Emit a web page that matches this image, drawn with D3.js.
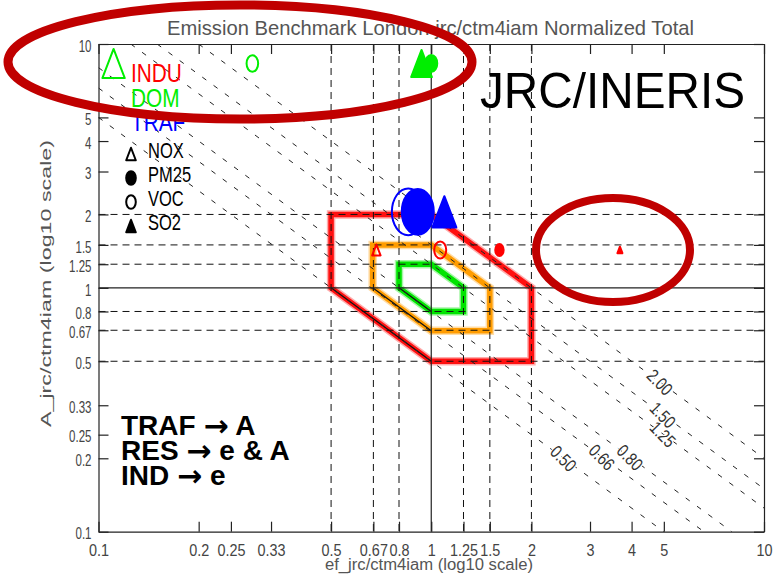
<!DOCTYPE html>
<html><head><meta charset="utf-8">
<script src="https://cdn.jsdelivr.net/npm/d3@7"></script>
<style>body{margin:0;background:#fff}svg{display:block}</style>
</head><body>
<svg id="chart" width="773" height="584"></svg>
<script>
// ---------------- data ----------------
const xTicks=[0.1,0.2,0.25,0.33,0.5,0.67,0.8,1,1.25,1.5,2,3,4,5,10];
const xTickLabels=["0.1","0.2","0.25","0.33","0.5","0.67","0.8","1","1.25","1.5","2","3","4","5","10"];
const yTicks=[0.1,0.2,0.25,0.33,0.5,0.67,0.8,1,1.25,1.5,2,3,4,5,10];
const yTickLabels=["0.1","0.2","0.25","0.33","0.5","0.67","0.8","1","1.25","1.5","2","3","4","5","10"];
const gridValues=[0.5,0.67,0.8,1.25,1.5,2];
const refValue=1;
const contourLevels=[0.5,0.66,0.8,1.25,1.5,2.0];
const contourLabels=["0.50","0.66","0.80","1.25","1.50","2.00"];
const contourLabelX=[2.5,3.26,3.96,4.97,4.97,4.87];
const bandFactors=[2,1.5,1.25];
const bandColors=["#ff1010","#ff9c00","#00e400"];
const sectors=["INDU","DOM","TRAF"];
const sectorColors=["#ff0000","#00ee00","#0000ff"];
const pollutants=["NOX","PM25","VOC","SO2"];
const pollutantSymbols=["triangle-open","circle-filled","circle-open","triangle-filled"];
// e ratio (x), A ratio (y), marker weight  — order NOX, PM25, VOC, SO2
const induE=[0.684,1.603,1.064,3.69];
const induA=[1.43,1.43,1.43,1.43];
const induW=[0.21,0.21,0.30,0.125];
const domE=[0.111,1.0,0.29,0.935];
const domA=[8.32,8.32,8.32,8.32];
const domW=[0.56,0.30,0.29,0.52];
const trafE=[null,0.911,0.853,1.095];
const trafA=[null,2.05,2.05,2.05];
const trafW=[null,0.80,0.82,0.60];
const titleText="Emission Benchmark London jrc/ctm4iam Normalized Total";
const xTitle="ef_jrc/ctm4iam (log10 scale)";
const yTitle="A_jrc/ctm4iam (log10 scale)";
const stampText="JRC/INERIS";
const noteLines=[["TRAF ","A"],["RES ","e & A"],["IND ","e"]];

// ---------------- setup ----------------
const svg=d3.select("#chart");
const x=d3.scaleLog().domain([0.1,10]).range([98.5,764]);
const y=d3.scaleLog().domain([0.1,10]).range([531.7,44]);
const rScale=d3.scaleLinear().domain([0,1]).range([0,20]);
const circAsp=1.43, triAsp=1.3;
const fontAx="Liberation Sans, Arial, sans-serif";

svg.append("rect").attr("width",773).attr("height",584).attr("fill","#fff");
svg.append("defs").append("clipPath").attr("id","plot")
  .append("rect").attr("x",x(0.1)).attr("y",y(10)).attr("width",x(10)-x(0.1)).attr("height",y(0.1)-y(10));
const plot=svg.append("g").attr("clip-path","url(#plot)");

// ---------------- bands (hexagons) ----------------
const hex=f=>[[1/f,f],[1,f],[f,1],[f,1/f],[1,1/f],[1/f,1]];
const lineGen=d3.line().x(d=>x(d[0])).y(d=>y(d[1]));
bandFactors.forEach((f,i)=>{
  const pts=hex(f);
  plot.append("path").attr("d",lineGen(pts)+"Z").attr("fill","none")
    .attr("stroke",bandColors[i]).attr("stroke-opacity",0.35).attr("stroke-width",8.5).attr("stroke-linejoin","miter");
  plot.append("path").attr("d",lineGen(pts)+"Z").attr("fill","none")
    .attr("stroke",bandColors[i]).attr("stroke-width",5.5).attr("stroke-linejoin","miter");
  plot.append("path").attr("d",lineGen([pts[5],pts[4]])).attr("fill","none")
    .attr("stroke","#111").attr("stroke-width",1.2);
});

// ---------------- grid ----------------
const gGrid=plot.append("g");
gGrid.selectAll(".vg").data(gridValues).join("line")
  .attr("x1",d=>x(d)).attr("x2",d=>x(d)).attr("y1",y(10)).attr("y2",y(0.1))
  .attr("stroke","#111").attr("stroke-width",1).attr("stroke-dasharray","7,5");
gGrid.selectAll(".hg").data(gridValues).join("line")
  .attr("y1",d=>y(d)).attr("y2",d=>y(d)).attr("x1",x(0.1)).attr("x2",x(10))
  .attr("stroke","#111").attr("stroke-width",1).attr("stroke-dasharray","7,5");
gGrid.append("line").attr("x1",x(refValue)).attr("x2",x(refValue)).attr("y1",y(10)).attr("y2",y(0.1))
  .attr("stroke","#222").attr("stroke-width",1.2);
gGrid.append("line").attr("y1",y(refValue)).attr("y2",y(refValue)).attr("x1",x(0.1)).attr("x2",x(10))
  .attr("stroke","#222").attr("stroke-width",1.2);

// ---------------- contours e*A = c ----------------
contourLevels.forEach((c,i)=>{
  const x0=Math.max(0.1,c/10), x1=Math.min(10,c/0.1);
  plot.append("path").attr("d",lineGen([[x0,c/x0],[x1,c/x1]]))
    .attr("fill","none").attr("stroke","#222").attr("stroke-width",1).attr("stroke-dasharray","5,9");
});
const angle=Math.atan2(y(0.1)-y(1),x(10)-x(1))*180/Math.PI+9;
contourLevels.forEach((c,i)=>{
  const lx=contourLabelX[i];
  plot.append("text").text(contourLabels[i])
    .attr("transform",`translate(${x(lx)},${y(c/lx)}) rotate(${angle}) scale(0.8,1)`)
    .attr("text-anchor","middle").attr("dominant-baseline","central")
    .attr("font-family",fontAx).attr("font-size",18)
    .attr("fill","#333").attr("stroke","#fff").attr("stroke-width",3).attr("paint-order","stroke");
});

// ---------------- axes ----------------
const axB=svg.append("g").attr("transform",`translate(0,${y(0.1)})`)
  .call(d3.axisBottom(x).tickValues(xTicks).tickFormat((d,i)=>xTickLabels[i]).tickSizeInner(-10).tickSizeOuter(0).tickPadding(13));
const axT=svg.append("g").attr("transform",`translate(0,${y(10)})`)
  .call(d3.axisTop(x).tickValues(xTicks).tickFormat("").tickSizeInner(-10).tickSizeOuter(0));
const axL=svg.append("g").attr("transform",`translate(${x(0.1)},0)`)
  .call(d3.axisLeft(y).tickValues(yTicks).tickFormat((d,i)=>yTickLabels[i]).tickSizeInner(-10).tickSizeOuter(0).tickPadding(6));
const axR=svg.append("g").attr("transform",`translate(${x(10)},0)`)
  .call(d3.axisRight(y).tickValues(yTicks).tickFormat("").tickSizeInner(-10).tickSizeOuter(0));
[axB,axT,axL,axR].forEach(a=>{
  a.select(".domain").attr("stroke","#222").attr("stroke-width",1.2);
  a.selectAll(".tick line").attr("stroke","#222").attr("stroke-width",1.2);
  a.selectAll("text").attr("font-family",fontAx).attr("fill","#444");
});
axB.selectAll("text").attr("font-size",16).attr("transform","scale(0.9,1)");
axL.selectAll("text").attr("font-size",16).attr("dy","0.45em")
  .attr("transform","scale(0.72,1)").attr("x",-7/0.72);

svg.append("text").text(titleText).attr("x",167).attr("y",35)
  .attr("font-family",fontAx).attr("font-size",21).attr("fill","#555")
  .attr("textLength",527).attr("lengthAdjust","spacingAndGlyphs");
svg.append("text").text(xTitle).attr("x",325).attr("y",570)
  .attr("font-family",fontAx).attr("font-size",16).attr("fill","#555")
  .attr("textLength",208).attr("lengthAdjust","spacingAndGlyphs");
svg.append("text").text(yTitle).attr("transform","translate(51,427) rotate(-90)")
  .attr("font-family",fontAx).attr("font-size",15).attr("fill","#555")
  .attr("textLength",287).attr("lengthAdjust","spacingAndGlyphs");

// ---------------- markers ----------------
function drawMarker(g,sym,cx,cy,r,color){
  if(sym.startsWith("circle")){
    g.append("ellipse").attr("cx",cx).attr("cy",cy).attr("rx",r).attr("ry",r*circAsp)
      .attr("fill",sym.endsWith("filled")?color:"none").attr("stroke",color).attr("stroke-width",2);
  } else {
    const hh=r*triAsp;
    g.append("path").attr("d",`M${cx},${cy-hh}L${cx+r},${cy+hh}L${cx-r},${cy+hh}Z`)
      .attr("fill",sym.endsWith("filled")?color:"none").attr("stroke",color).attr("stroke-width",2)
      .attr("stroke-linejoin","round");
  }
}
const sectorData=[[induE,induA,induW],[domE,domA,domW],[trafE,trafA,trafW]];
const gM=plot.append("g");
sectorData.forEach(([E,A,Wt],s)=>{
  [2,0,1,3].forEach(p=>{
    if(E[p]==null) return;
    drawMarker(gM,pollutantSymbols[p],x(E[p]),y(A[p]),rScale(Wt[p]),sectorColors[s]);
  });
});

// ---------------- legend ----------------
const gL=svg.append("g");
sectors.forEach((s,i)=>{
  gL.append("text").text(s).attr("transform",`translate(131,${82+i*24.5}) scale(0.8,1)`)
    .attr("font-family",fontAx).attr("font-size",26).attr("fill",sectorColors[i]);
});
pollutants.forEach((p,i)=>{
  const cy=154+i*24;
  drawMarker(gL,pollutantSymbols[i],131,cy,rScale(0.24),"#000");
  gL.append("text").text(p).attr("transform",`translate(148,${158+i*24}) scale(0.75,1)`)
    .attr("font-family",fontAx).attr("font-size",22).attr("fill","#000");
});

// ---------------- annotations ----------------
svg.append("ellipse").attr("cx",240).attr("cy",62).attr("rx",232).attr("ry",57)
  .attr("fill","none").attr("stroke","#c00000").attr("stroke-width",9);
svg.append("ellipse").attr("cx",613).attr("cy",250).attr("rx",77).attr("ry",52)
  .attr("fill","none").attr("stroke","#c00000").attr("stroke-width",8);
svg.append("text").text(stampText).attr("x",480).attr("y",108)
  .attr("font-family",fontAx).attr("font-size",50).attr("fill","#000")
  .attr("textLength",265).attr("lengthAdjust","spacingAndGlyphs");
noteLines.forEach((t,i)=>{
  const tx=svg.append("text").attr("x",121).attr("y",435+i*25)
    .attr("font-family",fontAx).attr("font-weight","bold").attr("font-size",28).attr("fill","#000");
  tx.append("tspan").text(t[0]);
  tx.append("tspan").text("\u2192").attr("font-family","DejaVu Sans, sans-serif").attr("font-size",30).attr("dy",1);
  tx.append("tspan").text(" "+t[1]).attr("dy",-1);
});
</script>
</body></html>
